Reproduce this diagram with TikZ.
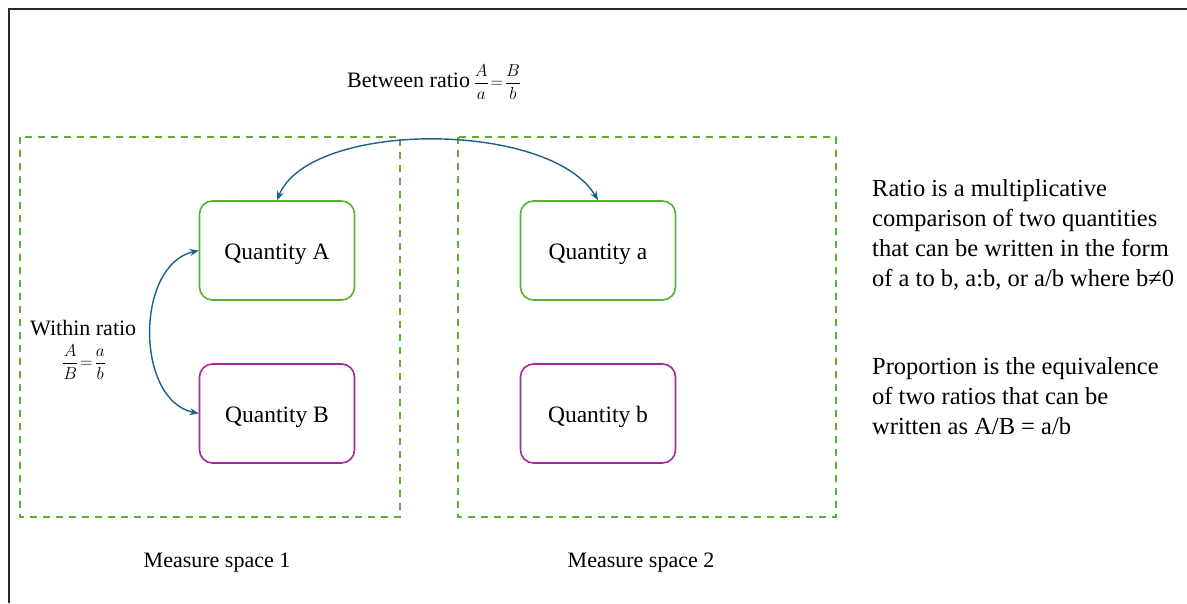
\documentclass[tikz,border=0pt]{standalone}
\usepackage{fontspec}
\setmainfont{Liberation Serif}
\usetikzlibrary{arrows.meta}
\definecolor{boxgreen}{RGB}{88,178,48}
\definecolor{boxpurple}{RGB}{164,40,164}
\definecolor{arrowblue}{RGB}{28,96,138}
\definecolor{framegray}{RGB}{40,40,40}
\newcommand{\ratiofrac}[4]{{\fontsize{17}{19}\selectfont$\displaystyle\frac{#1}{#2}\!=\!\frac{#3}{#4}$}}
\tikzset{
  space/.style={draw=boxgreen, line width=1.6pt, dash pattern=on 7pt off 6pt},
  qbox/.style={draw, line width=1.6pt, rounded corners=13pt, minimum width=155pt, minimum height=99pt, text height=17pt, text depth=0pt, font=\fontsize{23.5}{28}\selectfont},
  qgreen/.style={qbox, draw=boxgreen},
  qpurple/.style={qbox, draw=boxpurple},
  link/.style={draw=arrowblue, line width=1.4pt, {Stealth[length=9pt,width=7pt]}-{Stealth[length=9pt,width=7pt]}},
  lbl/.style={font=\fontsize{22}{26}\selectfont, inner sep=0pt},
  para/.style={font=\fontsize{24.5}{30}\selectfont, align=left, anchor=north west, inner sep=0pt}
}
\begin{document}
\begin{tikzpicture}[x=1pt,y=-1pt]
\useasboundingbox (0,0) rectangle (1187,603);
% frame edges
\draw[framegray, line width=2pt] (1187,9) -- (9,9) -- (9,603);
% measure spaces
\draw[space] (20,137) rectangle (400,517);
\draw[space] (458,137) rectangle (836,517);
% quantities
\node[qgreen]  (A) at (277,250.5) {Quantity A};
\node[qpurple] (B) at (277,413.5) {Quantity B};
\node[qgreen]  (a) at (598,250.5) {Quantity a};
\node[qpurple] (b) at (598,413.5) {Quantity b};
% ratio links
\draw[link] (A.north) .. controls (310,120) and (550,120) .. (a.north);
\draw[link] (A.west) .. controls (135,265) and (135,400) .. (B.west);
% labels
\node[lbl, anchor=west] (between) at (347,82) {Between ratio\,\ratiofrac{A}{a}{B}{b}};
\node[lbl, anchor=west] (within) at (30,328) {Within ratio};
\node[lbl] (withinfrac) at (84,362) {\ratiofrac{A}{B}{a}{b}};
\node[lbl] (ms1) at (217,563) {Measure space 1};
\node[lbl] (ms2) at (641,563) {Measure space 2};
\node[para] (ratio) at (872,179) {Ratio is a multiplicative\\comparison of two quantities\\that can be written in the form\\of a to b, a:b, or a/b where b≠0};
\node[para] (prop) at (872,357) {Proportion is the equivalence\\of two ratios that can be\\written as A/B = a/b};
\end{tikzpicture}
\end{document}
